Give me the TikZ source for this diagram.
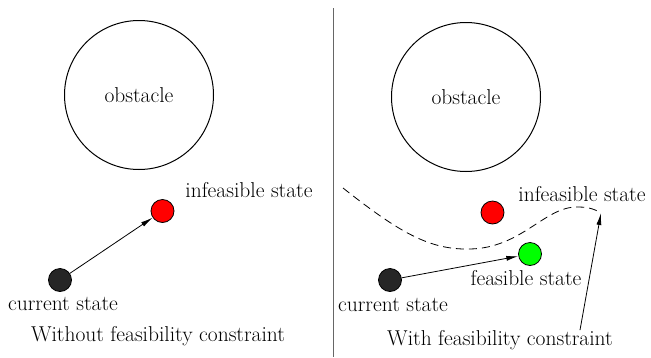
\documentclass[tikz,border=0pt]{standalone}
\usetikzlibrary{arrows.meta}

\begin{document}
\begin{tikzpicture}[
  x=1pt, y=-1pt,
  every node/.style={font=\fontsize{21.5}{24}\selectfont, inner sep=0pt},
  statedot/.style={circle, draw, line width=0.8pt, minimum size=23pt},
  trans/.style={line width=0.8pt, -{Latex[length=12pt, width=5pt]}}
]
\useasboundingbox (0,0) rectangle (651,357);

% left: without constraint
\node[circle, draw, line width=1pt, minimum size=149pt] (obsL) at (139,95) {};
\node at (obsL.center) {obstacle};
\node[statedot, fill=black!85] (curL) at (60,280) {};
\node[statedot, fill=red] (infL) at (162.5,211) {};
\node (curLtxt) at (63,304) {current state};
\node (infLtxt) at (249,190) {infeasible state};
\node (capL) at (158,336) {Without feasibility constraint};
\draw[trans] (curL) -- (infL);

% separator
\draw[gray!80!black, line width=1pt] (333,8) -- (333,357);

% right: with constraint
\node[circle, draw, line width=1pt, minimum size=149pt] (obsR) at (466,97) {};
\node at (obsR.center) {obstacle};
\node[statedot, fill=black!85] (curR) at (390,280) {};
\node[statedot, fill=red] (infR) at (492.5,212.5) {};
\node[statedot, fill=green] (feaR) at (530,254) {};
\node (curRtxt) at (393,305) {current state};
\node (infRtxt) at (582,194) {infeasible state};
\node (feaRtxt) at (526,278) {feasible state};
\node (capR) at (500,340) {With feasibility constraint};
\draw[trans] (curR) -- (feaR);

% boundary of feasible region
\coordinate (bstart) at (343,188);
\coordinate (bend) at (601,213);
\draw[line width=0.8pt, dash pattern=on 8pt off 5pt]
  (bstart) .. controls (400,233) and (430,250) .. (470,249)
  .. controls (522,248) and (545,206) .. (578,207)
  .. controls (590,207) and (596,210) .. (bend);
\draw[trans] (capR.north -| 580,0) -- (bend);
\end{tikzpicture}
\end{document}
